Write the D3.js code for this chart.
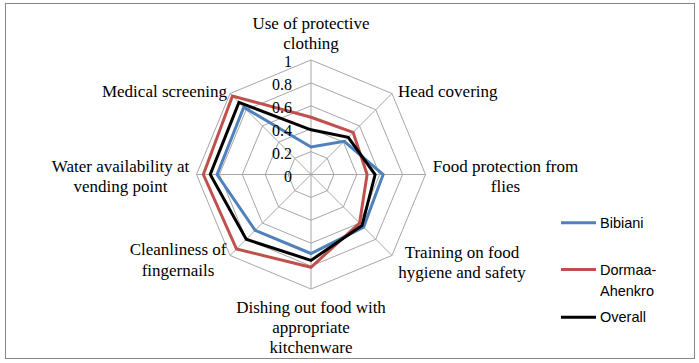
<!DOCTYPE html>
<html>
<head>
<meta charset="utf-8">
<script src="https://cdn.jsdelivr.net/npm/d3@7"></script>
<style>
  body { margin: 0; background: #fff; }
  svg { display: block; }
  .serif { font-family: "Liberation Serif", "Times New Roman", "DejaVu Serif", serif; }
  .sans { font-family: "Liberation Sans", Arial, sans-serif; }
</style>
</head>
<body>
<div id="chart"></div>
<script>
// categories, clockwise from the top
var categories = [
  ["Use of protective", "clothing"],
  ["Head covering"],
  ["Food protection from", "flies"],
  ["Training on food", "hygiene and safety"],
  ["Dishing out food with", "appropriate", "kitchenware"],
  ["Cleanliness of", "fingernails"],
  ["Water availability at", "vending point"],
  ["Medical screening"]
];
var bibiani = [0.24, 0.41, 0.63, 0.65, 0.69, 0.69, 0.82, 0.83];
var dormaa  = [0.50, 0.52, 0.49, 0.60, 0.81, 0.92, 0.94, 0.97];
var overall = [0.39, 0.46, 0.56, 0.63, 0.75, 0.80, 0.88, 0.89];
var seriesNames = [["Bibiani"], ["Dormaa-", "Ahenkro"], ["Overall"]];
var tickLabels = [0, 0.2, 0.4, 0.6, 0.8, 1];

var width = 699, height = 363;
var cx = 311, cy = 174.5, radius = 114.5;
var colors = ["#4F81BD", "#C0504D", "#000000"];

var svg = d3.select('#chart').append('svg')
  .attr('width', width)
  .attr('height', height);

// outer frame
svg.append('rect')
  .attr('x', 5.5).attr('y', 3.5)
  .attr('width', 689).attr('height', 355)
  .attr('fill', 'none')
  .attr('stroke', '#868686')
  .attr('stroke-width', 1);

var g = svg.append('g').attr('transform', 'translate(' + cx + ',' + cy + ')');

var n = categories.length;
var step = 2 * Math.PI / n;
var r = d3.scaleLinear().domain([0, 1]).range([0, radius]);

function px(v, i) { return r(v) * Math.sin(i * step); }
function py(v, i) { return -r(v) * Math.cos(i * step); }

// #1 grid octagons
var ring = d3.lineRadial()
  .angle(function(d, i) { return i * step; })
  .radius(function(d) { return r(d); })
  .curve(d3.curveLinearClosed);

g.append('g').selectAll('.grid')
  .data(tickLabels.slice(1)).enter().append('path')
  .attr('class', 'grid')
  .attr('d', function(t) { return ring(categories.map(function() { return t; })); })
  .attr('fill', 'none')
  .attr('stroke', '#a6a6a6')
  .attr('stroke-width', 1);

// spokes
g.append('g').selectAll('.spoke')
  .data(categories).enter().append('line')
  .attr('class', 'spoke')
  .attr('x1', 0).attr('y1', 0)
  .attr('x2', function(d, i) { return px(1, i); })
  .attr('y2', function(d, i) { return py(1, i); })
  .attr('stroke', '#a6a6a6')
  .attr('stroke-width', 1);

// #2 series
var allSeries = [bibiani, dormaa, overall];
g.append('g').selectAll('.series')
  .data(allSeries).enter().append('path')
  .attr('class', 'series')
  .attr('d', function(d) { return ring(d); })
  .attr('fill', 'none')
  .attr('stroke', function(d, i) { return colors[i]; })
  .attr('stroke-width', 3)
  .attr('stroke-linejoin', 'miter');

// #3 tick labels on the top spoke
g.append('g').selectAll('.tick')
  .data(tickLabels).enter().append('text')
  .attr('class', 'tick serif')
  .attr('x', -19)
  .attr('y', function(d) { return -r(d) + 2; })
  .attr('dy', '0.32em')
  .attr('text-anchor', 'end')
  .style('font-size', '16px')
  .text(function(d) { return d; });

// #4 category labels (offsets from each outer vertex)
var labelPos = [
  {dx: 0, dy: -31, anchor: 'middle'},
  {dx: 6, dy: 3.5, anchor: 'start'},
  {dx: 80, dy: -3, anchor: 'middle'},
  {dx: 70, dy: 2.5, anchor: 'middle'},
  {dx: 0, dy: 23.5, anchor: 'middle'},
  {dx: -52, dy: 0, anchor: 'middle'},
  {dx: -76, dy: -2.5, anchor: 'middle'},
  {dx: -3, dy: 3, anchor: 'end'}
];
var lineH = 20.3;
var labels = g.append('g').selectAll('.cat')
  .data(categories).enter().append('text')
  .attr('class', 'cat serif')
  .attr('text-anchor', function(d, i) { return labelPos[i].anchor; })
  .style('font-size', '17px');

labels.each(function(d, i) {
  var x = px(1, i) + labelPos[i].dx;
  var y = py(1, i) + labelPos[i].dy;
  d3.select(this).selectAll('tspan')
    .data(d).enter().append('tspan')
    .attr('x', x)
    .attr('y', function(t, j) { return y + j * lineH; })
    .text(function(t) { return t; });
});

// #5 legend
var legendY = [222.7, 269.5, 317.3];
var legend = svg.append('g').selectAll('.leg')
  .data(seriesNames).enter().append('g')
  .attr('class', 'leg')
  .attr('transform', function(d, i) { return 'translate(561,' + legendY[i] + ')'; });

legend.append('line')
  .attr('x1', 0).attr('x2', 35)
  .attr('y1', 0).attr('y2', 0)
  .attr('stroke', function(d, i) { return colors[i]; })
  .attr('stroke-width', 3);

legend.append('text')
  .attr('class', 'sans')
  .style('font-size', '14.5px')
  .selectAll('tspan')
  .data(function(d) { return d; }).enter().append('tspan')
  .attr('x', 39)
  .attr('y', function(t, j) { return 5 + j * 21; })
  .text(function(t) { return t; });
</script>
</body>
</html>
